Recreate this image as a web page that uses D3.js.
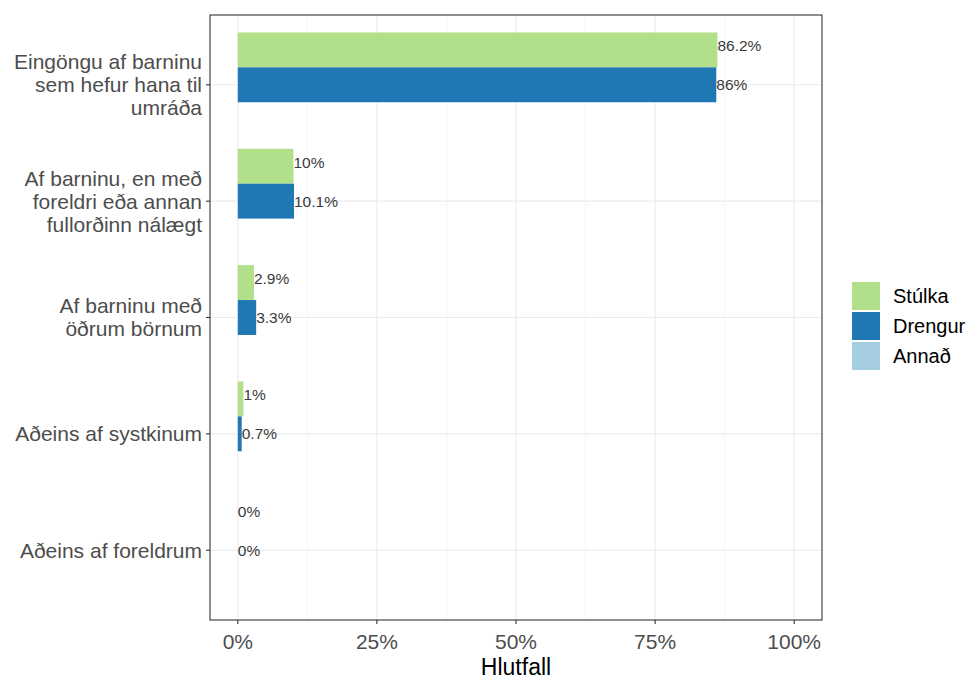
<!DOCTYPE html>
<html><head><meta charset="utf-8">
<script src="https://cdn.jsdelivr.net/npm/d3@7"></script>
<style>body{margin:0;background:#fff;} text{font-family:"Liberation Sans",Arial,sans-serif;}</style>
</head><body>
<svg id="c" width="973" height="679"></svg>
<script>
const categories = [
  ["Eingöngu af barninu", "sem hefur hana til", "umráða"],
  ["Af barninu, en með", "foreldri eða annan", "fullorðinn nálægt"],
  ["Af barninu með", "öðrum börnum"],
  ["Aðeins af systkinum"],
  ["Aðeins af foreldrum"]
];
const seriesNames = ["Stúlka", "Drengur", "Annað"];
const stulka = [86.2, 10, 2.9, 1, 0];
const drengur = [86, 10.1, 3.3, 0.7, 0];
const annad = [null, null, null, null, null];
const colors = ["#b2df8a", "#1f78b4", "#a6cee3"];
const xTicks = [0, 25, 50, 75, 100];
const xMinor = [12.5, 37.5, 62.5, 87.5];

const series = [stulka, drengur, annad];
const svg = d3.select("#c");
const P = {l: 210, r: 822, t: 15, b: 620};

const x = d3.scaleLinear().domain([-5, 105]).range([P.l, P.r]);
const catIdx = categories.map((d, i) => i);
const y = d3.scaleLinear().domain([-0.6, categories.length - 1 + 0.6]).range([P.t, P.b]);
const unit = y(1) - y(0);

const g = svg.append("g");
g.selectAll(".minor").data(xMinor).enter().append("line")
  .attr("x1", d => x(d)).attr("x2", d => x(d)).attr("y1", P.t).attr("y2", P.b)
  .attr("stroke", "#ebebeb").attr("stroke-width", 0.55);
g.selectAll(".major").data(xTicks).enter().append("line")
  .attr("x1", d => x(d)).attr("x2", d => x(d)).attr("y1", P.t).attr("y2", P.b)
  .attr("stroke", "#ebebeb").attr("stroke-width", 1.1);
g.selectAll(".hmaj").data(catIdx).enter().append("line")
  .attr("x1", P.l).attr("x2", P.r).attr("y1", d => y(d)).attr("y2", d => y(d))
  .attr("stroke", "#ebebeb").attr("stroke-width", 1.1);

const bw = 0.3;
series.forEach((s, si) => {
  const off = (si - 1) * bw;
  g.selectAll(".b" + si).data(s.map((v, i) => ({v, i})).filter(d => d.v != null && d.v > 0))
    .enter().append("rect")
    .attr("x", x(0))
    .attr("y", d => y(d.i + off - bw / 2))
    .attr("width", d => x(d.v) - x(0))
    .attr("height", bw * unit)
    .attr("fill", colors[si]);
});
const tw = 1 / 3;
series.forEach((s, si) => {
  const off = (si - 1) * tw;
  g.selectAll(".t" + si).data(s.map((v, i) => ({v, i})).filter(d => d.v != null))
    .enter().append("text")
    .attr("x", d => x(d.v))
    .attr("y", d => y(d.i + off))
    .attr("dy", "0.35em")
    .attr("font-size", 15.5).attr("fill", "#3a3a3a")
    .text(d => d3.format("~g")(d.v) + "%");
});

svg.append("rect").attr("x", P.l).attr("y", P.t).attr("width", P.r - P.l).attr("height", P.b - P.t)
  .attr("fill", "none").attr("stroke", "#333").attr("stroke-width", 1.1);

const xa = svg.append("g");
xTicks.forEach(t => {
  xa.append("line").attr("x1", x(t)).attr("x2", x(t)).attr("y1", P.b).attr("y2", P.b + 4)
    .attr("stroke", "#333").attr("stroke-width", 1.1);
  xa.append("text").attr("x", x(t)).attr("y", P.b + 29).attr("text-anchor", "middle")
    .attr("font-size", 21).attr("fill", "#4d4d4d").text(t + "%");
});
svg.append("text").attr("x", (P.l + P.r) / 2).attr("y", 675).attr("text-anchor", "middle")
  .attr("font-size", 23).attr("fill", "#000").text("Hlutfall");

const lh = 23;
categories.forEach((lines, i) => {
  svg.append("line").attr("x1", P.l - 4).attr("x2", P.l).attr("y1", y(i)).attr("y2", y(i))
    .attr("stroke", "#333").attr("stroke-width", 1.1);
  const t = svg.append("text").attr("text-anchor", "end").attr("font-size", 21).attr("fill", "#4d4d4d");
  const n = lines.length;
  lines.forEach((ln, j) => {
    t.append("tspan").attr("x", P.l - 8).attr("y", y(i) + (j - (n - 1) / 2) * lh).attr("dy", "0.35em").text(ln);
  });
});

seriesNames.forEach((nm, i) => {
  const ly = 282 + i * 30;
  svg.append("rect").attr("x", 852).attr("y", ly).attr("width", 28).attr("height", 28).attr("fill", colors[i]);
  svg.append("text").attr("x", 893).attr("y", ly + 14).attr("dy", "0.35em")
    .attr("font-size", 20).attr("fill", "#000").text(nm);
});
</script>
</body></html>
